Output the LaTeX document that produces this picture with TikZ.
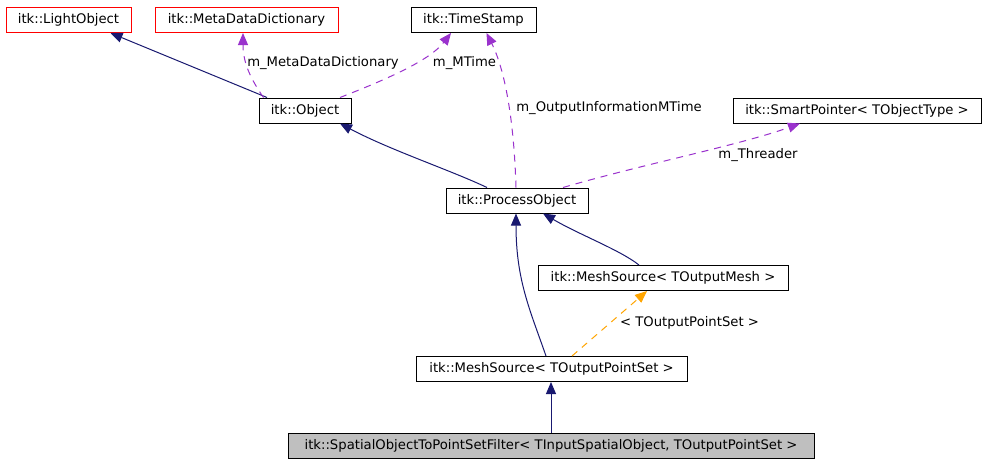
\documentclass[tikz,border=0pt]{standalone}
\usepackage{fontspec}
\setmainfont{DejaVu Sans}
\usetikzlibrary{arrows.meta}
\definecolor{navy}{HTML}{191970}
\definecolor{purp}{HTML}{9A32CD}
\definecolor{orng}{HTML}{FFA500}
\definecolor{grayfill}{HTML}{BFBFBF}
\begin{document}
\begin{tikzpicture}[x=1pt,y=-1pt,
 cls/.style={draw=black, line width=1pt, minimum height=25pt, inner sep=0pt, font=\fontsize{13.2}{15}\selectfont, text height=9.6pt, text depth=2.6pt},
 redcls/.style={cls, draw=red},
 inh/.style={navy, line width=1pt, -{Triangle[length=12pt,width=10pt]}},
 usage/.style={purp, line width=1pt, dash pattern=on 7pt off 6pt, -{Triangle[length=12pt,width=10pt]}},
 tmpl/.style={orng, line width=1pt, dash pattern=on 7pt off 6pt, -{Triangle[length=12pt,width=10pt]}},
 lbl/.style={font=\fontsize{13.2}{15}\selectfont, inner sep=0pt, text height=9.6pt, text depth=2.6pt}]
\useasboundingbox[fill=white] (0,0) rectangle (987,464);

\node[redcls, minimum width=125pt] (light) at (68.5,20) {itk::LightObject};
\node[redcls, minimum width=183pt] (meta) at (246.5,20) {itk::MetaDataDictionary};
\node[cls, minimum width=125pt] (time) at (473.5,20) {itk::TimeStamp};
\node[cls, minimum width=92pt] (obj) at (305,110.5) {itk::Object};
\node[cls, minimum width=248pt] (smart) at (857,110.5) {itk::SmartPointer< TObjectType >};
\node[cls, minimum width=142pt] (proc) at (517,200.5) {itk::ProcessObject};
\node[cls, minimum width=250pt] (msmesh) at (663,278) {itk::MeshSource< TOutputMesh >};
\node[cls, minimum width=271pt] (msps) at (551.5,369) {itk::MeshSource< TOutputPointSet >};
\node[cls, fill=grayfill, minimum width=526pt] (spatial) at (551,446) {itk::SpatialObjectToPointSetFilter< TInputSpatialObject, TOutputPointSet >};

\draw[inh] ([xshift=-38pt]obj.north) -- ([xshift=42pt]light.south);
\draw[usage] ([xshift=-41.5pt]obj.north) .. controls (250,78) and (243,62) .. ([xshift=-3.5pt]meta.south);
\draw[usage] ([xshift=35pt]obj.north) .. controls (390,78) and (430,60) .. ([xshift=-22.5pt]time.south);
\draw[inh] ([xshift=-30pt]proc.north) .. controls (450,170) and (390,150) .. ([xshift=35pt]obj.south);
\draw[usage] ([xshift=-1pt]proc.north) .. controls (514,120) and (505,70) .. ([xshift=13pt]time.south);
\draw[usage] ([xshift=46pt]proc.north) .. controls (640,165) and (740,145) .. ([xshift=-57pt]smart.south);
\draw[inh] ([xshift=-24pt]msmesh.north) .. controls (620,250) and (580,235) .. ([xshift=26pt]proc.south);
\draw[inh] ([xshift=-5.5pt]msps.north) .. controls (530,310) and (516,280) .. ([xshift=-1pt]proc.south);
\draw[tmpl] ([xshift=20.5pt]msps.north) -- ([xshift=-16pt]msmesh.south);
\draw[inh] (spatial.north) -- (spatial.north |- msps.south);

\node[lbl] (l1) at (323,63) {m\_MetaDataDictionary};
\node[lbl] (l2) at (464.5,63) {m\_MTime};
\node[lbl] (l3) at (609,108) {m\_OutputInformationMTime};
\node[lbl] (l4) at (758,155) {m\_Threader};
\node[lbl] (l5) at (689.5,323) {< TOutputPointSet >};
\end{tikzpicture}
\end{document}
